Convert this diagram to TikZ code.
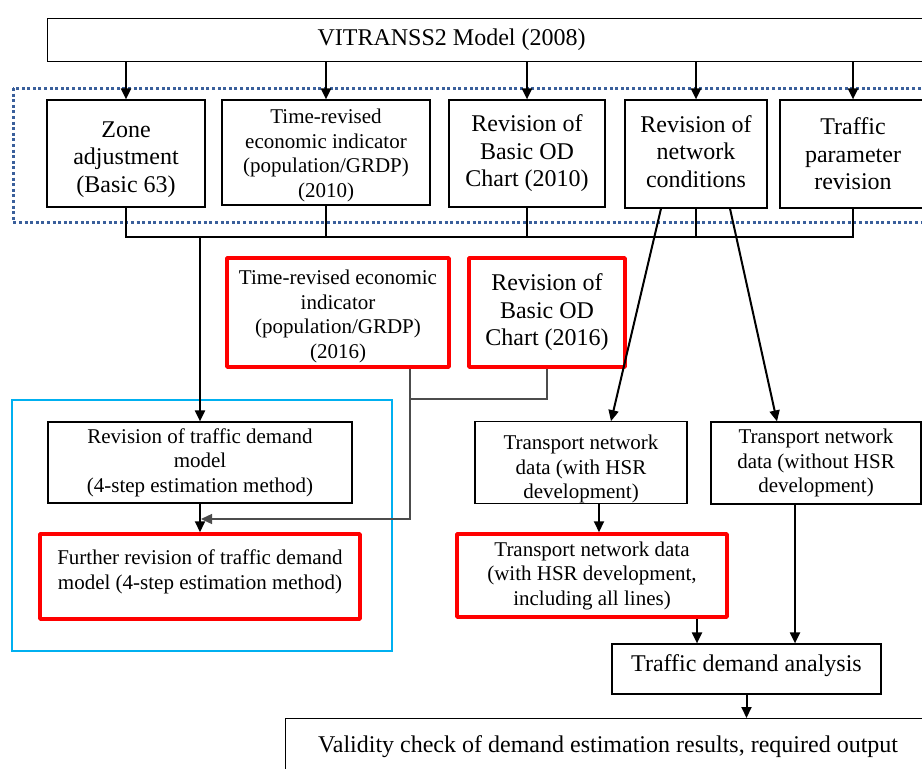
\documentclass[tikz,border=0pt]{standalone}
\usepackage{fontspec}
\setmainfont{Liberation Serif}
\usetikzlibrary{arrows.meta,calc}
\newcommand\bigfs{\fontsize{24}{27.5}\selectfont}
\newcommand\smfs{\fontsize{21}{24.5}\selectfont}
\definecolor{dotblue}{RGB}{58,95,155}
\definecolor{skyline}{RGB}{0,176,240}
\definecolor{redline}{RGB}{255,0,0}
\begin{document}
\begin{tikzpicture}[x=1pt,y=-1pt,
  box/.style={draw=black, line width=1.2pt, fill=white, align=center, inner sep=0pt, font=\bigfs},
  sbox/.style={box, font=\smfs},
  redbox/.style={draw=redline, line width=3.5pt, line join=round},
  arr/.style={line width=2pt, -{Triangle[length=11pt,width=10pt]}},
  thinline/.style={line width=1.3pt},
  gline/.style={line width=1.3pt, draw=black!70},
  garr/.style={gline, -{Triangle[length=11pt,width=10pt]}, shorten >=1pt},
  dotbox/.style={draw=dotblue, line width=3pt, dash pattern=on 3pt off 2.6pt},
  cyanbox/.style={draw=skyline, line width=1.6pt}
]
\useasboundingbox (0,0) rectangle (922,769);
\clip (0,0) rectangle (922,769);
\fill[white] (0,0) rectangle (922,769);

% dotted group and cyan group frames
\draw[dotbox] (13,88) rectangle (960,222);
\draw[cyanbox] (12,400) rectangle (392,651);

% top box
\node[box, anchor=north west, minimum height=43pt] (top) at (47,18)
  {\makebox[808pt]{VITRANSS2 Model (2008)}\hspace*{200pt}};

% row of boxes
\node[box, minimum width=158pt, minimum height=107pt] (zone) at (126,153.5)
  {\rule{0pt}{28pt}Zone\\adjustment\\(Basic 63)};
\node[sbox, minimum width=208pt, minimum height=105pt] (econ10) at (326,152.5)
  {\rule{0pt}{20pt}Time-revised\\economic indicator\\(population/GRDP)\\(2010)};
\node[box, minimum width=156pt, minimum height=107pt] (od10) at (527,153.5)
  {Revision of\\Basic OD\\Chart (2010)};
\node[box, minimum width=142pt, minimum height=108pt] (net) at (696,154)
  {Revision of\\network\\conditions\rule[-5pt]{0pt}{1pt}};
\node[box, minimum width=146pt, minimum height=108pt] (param) at (853,154)
  {Traffic\\parameter\\revision};

% red 2016 boxes
\node[sbox, redbox, minimum width=222pt, minimum height=109pt] (econ16) at (338,312.5)
  {\rule{0pt}{22pt}Time-revised economic\\indicator\\(population/GRDP)\\(2016)};
\node[box, redbox, minimum width=156pt, minimum height=109pt] (od16) at (547,312.5)
  {Revision of\\Basic OD\\Chart (2016)};

% left column
\node[sbox, minimum width=304pt, minimum height=81pt] (rev) at (200,462.5)
  {Revision of traffic demand\\model\\(4-step estimation method)};
\node[sbox, redbox, minimum width=320pt, minimum height=85pt] (further) at (200,576.5)
  {Further revision of traffic demand\\model (4-step estimation method)\rule[-14pt]{0pt}{1pt}};

% right column
\node[sbox, minimum width=212pt, minimum height=81pt] (tndw) at (581,462.5)
  {\rule{0pt}{28pt}Transport network\\data (with HSR\\development)};
\node[sbox, minimum width=210pt, minimum height=82pt] (tndwo) at (816,463)
  {Transport network\\data (without HSR\\development)};
\node[sbox, redbox, minimum width=270pt, minimum height=83pt] (tndall) at (592,575.5)
  {Transport network data\\(with HSR development,\\including all lines)};
\node[box, minimum width=269pt, minimum height=50pt] (tda) at (746.5,669)
  {Traffic demand analysis\rule[-12pt]{0pt}{1pt}};

% bottom box
\node[box, anchor=north west, text height=33.5pt, text depth=30pt] (valid) at (285,718)
  {\makebox[645pt]{Validity check of demand estimation results, required output}\hspace*{100pt}};

% arrows from top box
\foreach \n in {zone,econ10,od10,net,param}
  \draw[arr] (top.south -| \n.north) -- (\n.north);

% collecting bus
\coordinate (bus) at (0,237);
\draw[thinline] (zone.south) -- (zone.south |- bus) -- (param.south |- bus) -- (param.south);
\foreach \n in {econ10,od10,net}
  \draw[thinline] (\n.south) -- (\n.south |- bus);
\draw[arr] (rev.north |- bus) -- (rev.north);
\draw[arr] (rev.south) -- (further.north);

% 2016 inputs
\coordinate (j1) at (410,399);
\coordinate (j2) at (410,519);
\draw[gline] (od16.south) -- (od16.south |- j1) -- (j1);
\draw[garr] (econ16.south -| j1) -- (j2) -- (j2 -| rev.south);

% network branches
\draw[arr] ($(net.south)+(-35,0)$) -- ($(tndw.north)+(30,0)$);
\draw[arr] ($(net.south)+(34,0)$) -- ($(tndwo.north)+(-39,0)$);

\coordinate (c1) at ($(tndw.south)+(18,0)$);
\draw[arr] (c1) -- (c1 |- tndall.north);
\coordinate (c2) at ($(tndall.south)+(105,0)$);
\draw[arr] (c2) -- (c2 |- tda.north);
\coordinate (c3) at ($(tndwo.south)+(-21,0)$);
\draw[arr] (c3) -- (c3 |- tda.north);
\draw[arr] (tda.south) -- (tda.south |- valid.north);
\end{tikzpicture}
\end{document}
